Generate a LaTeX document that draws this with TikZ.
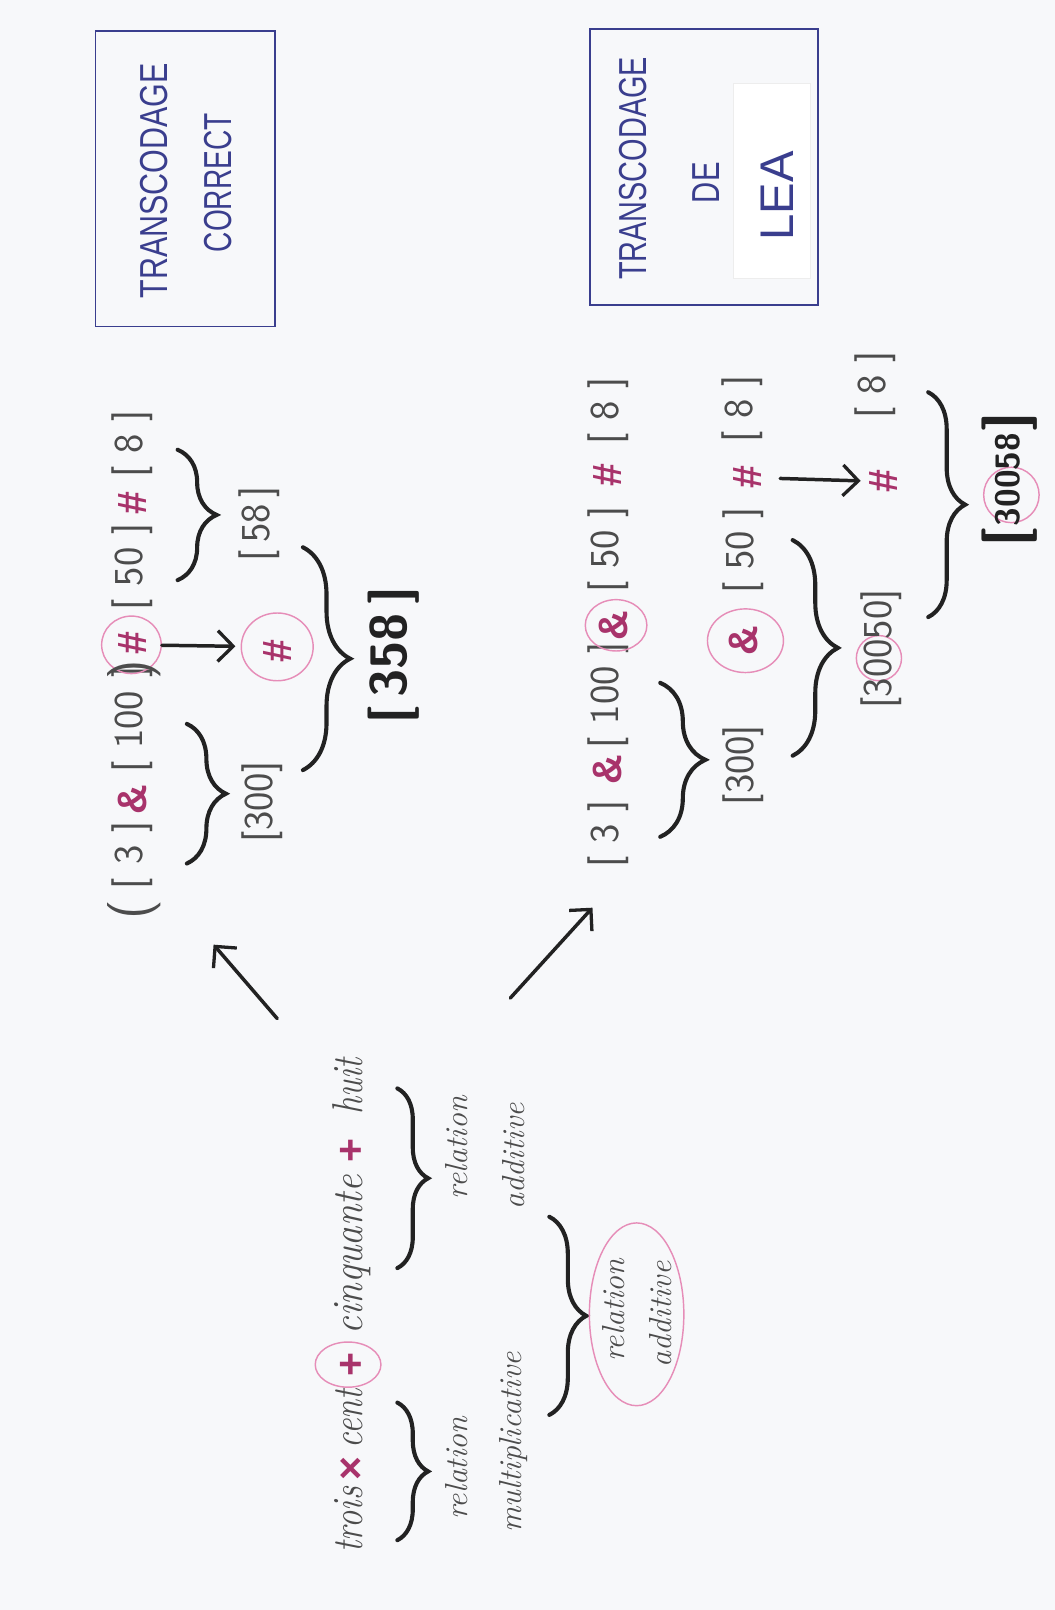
\documentclass[tikz,border=0pt]{standalone}
\usepackage{fontspec}
\usepackage{graphicx}
\usetikzlibrary{decorations.pathreplacing,arrows.meta,shapes.geometric}
\newfontfamily\hand{Liberation Sans}
\definecolor{navy}{HTML}{3A3E8E}
\definecolor{ink}{HTML}{222222}
\definecolor{graytxt}{HTML}{4C4C4C}
\definecolor{mag}{HTML}{A8336B}
\definecolor{pinkc}{HTML}{E68DB8}
\definecolor{paper}{HTML}{F7F8FA}
\newcommand\myCap{\hand\fontsize{38}{40}\selectfont}
\newcommand\myNum{\sffamily\fontsize{40}{40}\selectfont}
\newcommand\mySym{\hand\bfseries\fontsize{40}{40}\selectfont}
\newcommand\myWord{\itshape\fontsize{42}{42}\selectfont}
\newcommand\mySmall{\itshape\fontsize{31}{31}\selectfont}
\newcommand\narrowed[1]{\scalebox{0.8}[1]{#1}}
\begin{document}
\begin{tikzpicture}[x=1pt,y=-1pt,
  boxn/.style={draw=navy, line width=1.8pt, inner sep=0pt},
  caps/.style={rotate=90, text=navy, font=\myCap, inner sep=0pt},
  num/.style={rotate=90, text=graytxt, font=\myNum, inner sep=0pt},
  bnum/.style={rotate=90, text=ink, font=\sffamily\bfseries\fontsize{50}{50}\selectfont, inner sep=0pt},
  sym/.style={rotate=90, text=mag, font=\mySym, inner sep=0pt},
  ring/.style={draw=pinkc, line width=1.4pt, ellipse, inner sep=0pt},
  brc/.style={draw=ink, line width=4pt, line cap=round, decorate, decoration={brace, amplitude=#1}},
  arr/.style={draw=ink, line width=3.4pt, line cap=round, -{Straight Barb[length=15pt,width=30pt,line width=3.2pt]}},
  word/.style={rotate=90, anchor=base, text=graytxt, font=\myWord, inner sep=0pt},
  smalltxt/.style={rotate=90, text=graytxt, font=\mySmall, inner sep=0pt},
]
\useasboundingbox (0,0) rectangle (1027,1568);
\fill[paper] (0,0) rectangle (1027,1568);

% ---------- boxes ----------
\node[boxn, minimum width=175pt, minimum height=288pt] (box1) at (180.5,174) {};
\node[caps] (tr1) at (150,176) {\scalebox{0.78}[1]{TRANSCODAGE}};
\node[caps] (cor) at (212,178) {\scalebox{0.72}[1]{CORRECT}};

\node[boxn, minimum width=222pt, minimum height=269pt] (box2) at (686,162.5) {};
\node[draw=black!7, fill=white, line width=0.8pt, minimum width=75pt, minimum height=190pt] (patch) at (752,176) {};
\node[caps] (tr2) at (617,164) {\scalebox{0.74}[1]{TRANSCODAGE}};
\node[caps] (de) at (688,178) {\scalebox{0.75}[1]{DE}};
\node[caps, font=\hand\fontsize{46}{46}\selectfont] (lea) at (757,191) {LEA};

% ---------- correct transcoding ----------
\node[num, font=\sffamily\fontsize{52}{52}\selectfont] (po) at (131,886) {(};
\node[num] (t3) at (129,833) {[~3~]};
\node[sym] (ta1) at (129,779) {\&};
\node[num] (t100) at (129,701) {[~100~]};
\node[ring, minimum width=58pt, minimum height=56pt] (tc1) at (128,628) {};
\node[num, font=\sffamily\fontsize{52}{52}\selectfont] (pc) at (131,652) {)};
\node[sym] (th1) at (129,626) {\#};
\node[num] (t50) at (129,552) {[~50~]};
\node[sym] (th2) at (129,490) {\#};
\node[num] (t8) at (129,432) {[~8~]};

\coordinate (b1a) at (182,705); \coordinate (b1b) at (182,841);
\draw[brc=38] (b1a) -- (b1b);
\coordinate (b2a) at (173,438); \coordinate (b2b) at (173,565);
\draw[brc=38] (b2a) -- (b2b);

\node[num] (t300) at (255,781) {[300]};
\node[num] (t58) at (252,510) {[\,58\,]};
\node[ring, minimum width=70pt, minimum height=66pt] (tc2) at (270,630) {};
\node[sym] (th3) at (270,634) {\#};
\draw[arr, shorten >=5pt] (tc1) -- (tc2);

\coordinate (b3a) at (295,533); \coordinate (b3b) at (295,750);
\draw[brc=46] (b3a) -- (b3b);
\node[bnum] (t358) at (383,638) {[\,358\,]};

% ---------- LEA transcoding ----------
\node[num] (m3) at (592,812) {[~3~]};
\node[sym] (ma1) at (592,750) {\&};
\node[num] (m100) at (592,677) {[~100~]};
\node[ring, minimum width=60pt, minimum height=50pt] (mc1) at (600,609) {};
\node[sym] (ma2) at (597,609) {\&};
\node[num] (m50) at (592,535) {[~50~]};
\node[sym] (mh1) at (592,463) {\#};
\node[num] (m8) at (592,400) {[~8~]};

\coordinate (b4a) at (643,665); \coordinate (b4b) at (643,815);
\draw[brc=44] (b4a) -- (b4b);
\node[num] (r300) at (724,745) {[300]};
\node[ring, minimum width=74pt, minimum height=62pt] (rc) at (726,624) {};
\node[sym] (ra) at (724,624) {\&};
\node[num] (r50) at (724,536) {[~50~]};
\node[sym] (rh) at (728,465) {\#};
\node[num] (r8) at (723,398) {[~8~]};

\coordinate (b5a) at (772,526); \coordinate (b5b) at (772,736);
\draw[brc=44] (b5a) -- (b5b);
\node[ring, minimum width=44pt, minimum height=44pt] (sc) at (856,641) {};
\node[num] (s30050) at (858,632) {[30050]};
\node[sym] (sh) at (860,469) {\#};
\draw[arr, shorten <=18pt, shorten >=8pt] (rh) -- (sh);
\node[num] (s8) at (852,375) {[~8~]};

\coordinate (b6a) at (904,382); \coordinate (b6b) at (904,601);
\draw[brc=36] (b6a) -- (b6b);
\node[ring, minimum width=54pt, minimum height=54pt] (fc) at (985,482) {};
\node[rotate=90, text=ink, inner sep=0pt, font=\sffamily\bfseries] (f30058) at (983,467)
  {{\fontsize{54}{54}\selectfont[}\,\raisebox{4pt}{\fontsize{33}{33}\selectfont 30058}\,{\fontsize{54}{54}\selectfont]}};

% ---------- number words ----------
\node[word] (w1) at (353,1480) {\narrowed{trois}};
\node[sym] (wx) at (343,1430) {×};
\node[word] (w2) at (353,1382) {\narrowed{cent}};
\node[ring, minimum width=64pt, minimum height=44pt] (wc) at (339,1329) {};
\node[sym] (wp1) at (343,1329) {+};
\node[word] (w3) at (353,1222) {\scalebox{0.9}[1]{cinquante}};
\node[sym] (wp2) at (343,1120) {+};
\node[word] (w4) at (353,1058) {\narrowed{huit}};

\coordinate (b7a) at (387,1366); \coordinate (b7b) at (387,1500);
\draw[brc=30] (b7a) -- (b7b);
\coordinate (b8a) at (387,1060); \coordinate (b8b) at (387,1235);
\draw[brc=30] (b8a) -- (b8b);
\node[smalltxt] (rl1) at (445,1118) {relation};
\node[smalltxt] (ad1) at (500,1126) {additive};
\node[smalltxt] (rl2) at (445,1430) {relation};
\node[smalltxt] (mu) at (500,1405) {multiplicative};

\coordinate (b9a) at (535,1185); \coordinate (b9b) at (535,1378);
\draw[brc=36] (b9a) -- (b9b);
\node[ring, minimum width=92pt, minimum height=178pt] (ell) at (620,1280) {};
\node[smalltxt] (rl3) at (598,1276) {relation};
\node[smalltxt] (ad3) at (643,1280) {additive};

% ---------- arrows to both transcodings ----------
\coordinate (a1s) at (270,992); \coordinate (a1e) at (208,920);
\draw[arr] (a1s) -- (a1e);
\coordinate (a2s) at (497,972); \coordinate (a2e) at (577,884);
\draw[arr] (a2s) -- (a2e);
\end{tikzpicture}
\end{document}
